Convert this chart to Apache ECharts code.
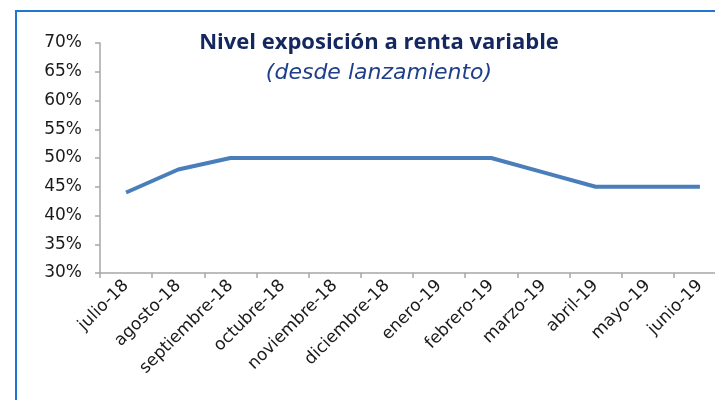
<!DOCTYPE html>
<html>
<head>
<meta charset="utf-8">
<script src="https://cdn.jsdelivr.net/npm/echarts@6/dist/echarts.min.js"></script>
<style>
  html, body { margin: 0; padding: 0; background: #ffffff; }
  #main { width: 715px; height: 400px; }
</style>
</head>
<body>
<div id="main"></div>
<script>
// categorias (meses)
const months = ['julio-18', 'agosto-18', 'septiembre-18', 'octubre-18', 'noviembre-18', 'diciembre-18',
  'enero-19', 'febrero-19', 'marzo-19', 'abril-19', 'mayo-19', 'junio-19'];
// nivel de exposicion (%)
const exposure = [44, 48, 50, 50, 50, 50, 50, 50, 47.5, 45, 45, 45];
// eje y
const yMin = 30;
const yMax = 70;
const yStep = 5;

const chart = echarts.init(document.getElementById('main'));
const options = {
  animation: false,
  title: {
    text: 'Nivel exposición a renta variable',
    subtext: '(desde lanzamiento)',
    left: 374,
    top: 27,
    textAlign: 'center',
    itemGap: 8,
    textStyle: {
      fontFamily: 'Open Sans',
      fontWeight: 'bold',
      fontSize: 22,
      color: '#14285f',
    },
    subtextStyle: {
      fontFamily: 'DejaVu Sans',
      fontStyle: 'italic',
      fontSize: 22,
      color: '#1f3f8a',
    },
  },
  grid: {
    left: 100,
    top: 43,
    width: 626,
    height: 230,
    outerBoundsMode: 'none',
  },
  xAxis: {
    type: 'category',
    data: months,
    boundaryGap: true,
    axisLine: { lineStyle: { color: '#a6a6a6', width: 1.5 } },
    axisTick: { show: true, length: 5, lineStyle: { color: '#a6a6a6', width: 1.5 } },
    axisLabel: {
      rotate: 45,
      interval: 0,
      margin: 10,
      fontFamily: 'DejaVu Sans',
      fontSize: 17,
      color: '#1a1a1a',
    },
  },
  yAxis: {
    type: 'value',
    min: yMin,
    max: yMax,
    interval: yStep,
    splitLine: { show: false },
    axisLine: { show: true, lineStyle: { color: '#a6a6a6', width: 1.5 } },
    axisTick: { show: true, length: 5, lineStyle: { color: '#a6a6a6', width: 1.5 } },
    axisLabel: {
      formatter: '{value}%',
      margin: 18,
      fontFamily: 'DejaVu Sans',
      fontSize: 17,
      color: '#1a1a1a',
    },
  },
  series: [
    {
      type: 'line',
      data: exposure,
      symbol: 'none',
      lineStyle: { color: '#4a7ebb', width: 4 },
    },
  ],
  graphic: [
    {
      type: 'rect',
      shape: { x: 16, y: 11, width: 800, height: 500 },
      style: { fill: 'none', stroke: '#1f77d0', lineWidth: 2 },
      z: 10,
    },
  ],
};
chart.setOption(options);
</script>
</body>
</html>
